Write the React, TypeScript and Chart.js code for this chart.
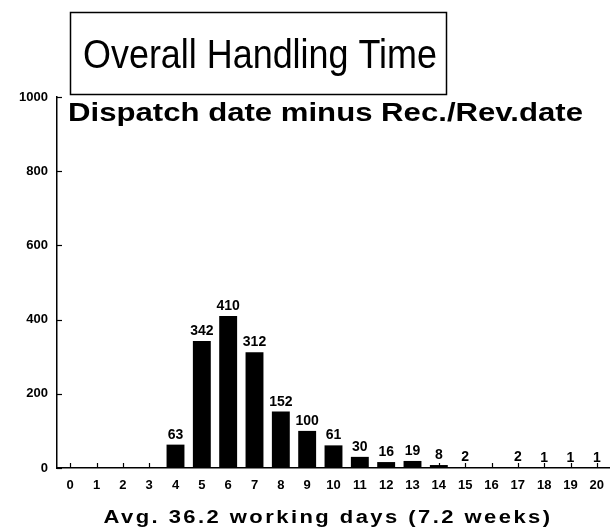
import React, { useEffect, useRef } from 'react';
import { Chart, registerables } from 'chart.js';

Chart.register(...registerables);

const categories = ['0','1','2','3','4','5','6','7','8','9','10','11','12','13','14','15','16','17','18','19','20'];
const counts = [0, 0, 0, 0, 63, 342, 410, 312, 152, 100, 61, 30, 16, 19, 8, 2, 0, 2, 1, 1, 1];
const yTickValues = [0, 200, 400, 600, 800, 1000];
const titleText = 'Overall Handling Time';
const subtitleText = 'Dispatch date minus Rec./Rev.date';
const xAxisTitle = 'Avg. 36.2 working days (7.2 weeks)';

const FONT = '"Liberation Sans", Arial, Helvetica, sans-serif';

function fitText(ctx: CanvasRenderingContext2D, text: string, x: number, y: number, width: number, align: 'left' | 'center') {
  const w = ctx.measureText(text).width;
  const sx = width / w;
  ctx.save();
  ctx.textAlign = 'left';
  const left = align === 'center' ? x - width / 2 : x;
  ctx.translate(left, y);
  ctx.scale(sx, 1);
  ctx.fillText(text, 0, 0);
  ctx.restore();
}

const decorPlugin = {
  id: 'decor',
  afterDraw(chart: any) {
    const { ctx, chartArea, scales } = chart;
    const x = scales.x;
    const y = scales.y;
    ctx.save();
    ctx.strokeStyle = '#000';
    ctx.fillStyle = '#000';
    ctx.lineWidth = 1.2;
    yTickValues.forEach((v) => {
      const py = Math.round(y.getPixelForValue(v)) + 0.5;
      ctx.beginPath();
      ctx.moveTo(chartArea.left, py);
      ctx.lineTo(chartArea.left + 5, py);
      ctx.stroke();
    });
    categories.forEach((_, i) => {
      const px = Math.round(x.getPixelForValue(i)) + 0.5;
      ctx.beginPath();
      ctx.moveTo(px, chartArea.bottom);
      ctx.lineTo(px, chartArea.bottom - 5);
      ctx.stroke();
    });
    const meta = chart.getDatasetMeta(0);
    ctx.font = `bold 14px ${FONT}`;
    ctx.textAlign = 'center';
    ctx.textBaseline = 'alphabetic';
    meta.data.forEach((bar: any, i: number) => {
      const v = counts[i];
      if (!v) return;
      ctx.fillText(String(v), bar.x, bar.y - 6);
    });
    // title box
    ctx.lineWidth = 1.5;
    ctx.strokeRect(70.5, 12.5, 376, 82);
    ctx.font = `40px ${FONT}`;
    fitText(ctx, titleText, 260, 68, 354, 'center');
    // subtitle
    ctx.font = `bold 25px ${FONT}`;
    fitText(ctx, subtitleText, 68, 121, 515, 'left');
    // x axis title
    ctx.font = `bold 18px ${FONT}`;
    (ctx as any).letterSpacing = '2px';
    fitText(ctx, xAxisTitle, 328, 523, 449, 'center');
    ctx.restore();
  },
};

export default function App() {
  const ref = useRef<HTMLCanvasElement | null>(null);
  useEffect(() => {
    if (!ref.current) return;
    const chart = new Chart(ref.current, {
      type: 'bar',
      data: {
        labels: categories,
        datasets: [
          {
            data: counts,
            backgroundColor: '#000',
            borderWidth: 0,
            categoryPercentage: 1,
            barPercentage: 0.68,
          },
        ],
      },
      options: {
        responsive: false,
        animation: false,
        events: [],
        layout: { padding: { top: 97, left: 0, right: 0, bottom: 0 } },
        plugins: {
          legend: { display: false },
          title: { display: false },
          tooltip: { enabled: false },
        },
        scales: {
          x: {
            offset: true,
            grid: { display: true, drawOnChartArea: false, drawTicks: false },
            border: { display: true, color: '#000', width: 1.5 },
            ticks: {
              color: '#000',
              font: { family: FONT, size: 13, weight: 'bold' },
              padding: 10,
              autoSkip: false,
              maxRotation: 0,
            },
            afterFit: (s: any) => {
              s.height = 59;
              s.paddingLeft = 0;
              s.paddingRight = 0;
            },
          },
          y: {
            min: 0,
            max: 1000,
            afterBuildTicks: (s: any) => {
              s.ticks = yTickValues.map((v) => ({ value: v }));
            },
            grid: { display: true, drawOnChartArea: false, drawTicks: false },
            border: { display: true, color: '#000', width: 1.5 },
            ticks: {
              color: '#000',
              font: { family: FONT, size: 13, weight: 'bold' },
              padding: 9,
              callback: (v: any) => String(v),
            },
            afterFit: (s: any) => {
              s.width = 57;
              s.paddingTop = 0;
              s.paddingBottom = 0;
            },
          },
        },
      },
      plugins: [decorPlugin],
    });
    return () => chart.destroy();
  }, []);
  return (
    <div style={{ position: 'absolute', left: 0, top: 0, width: 610, height: 527, background: '#fff' }}>
      <canvas ref={ref} width={610} height={527} style={{ width: 610, height: 527, display: 'block' }} />
    </div>
  );
}
